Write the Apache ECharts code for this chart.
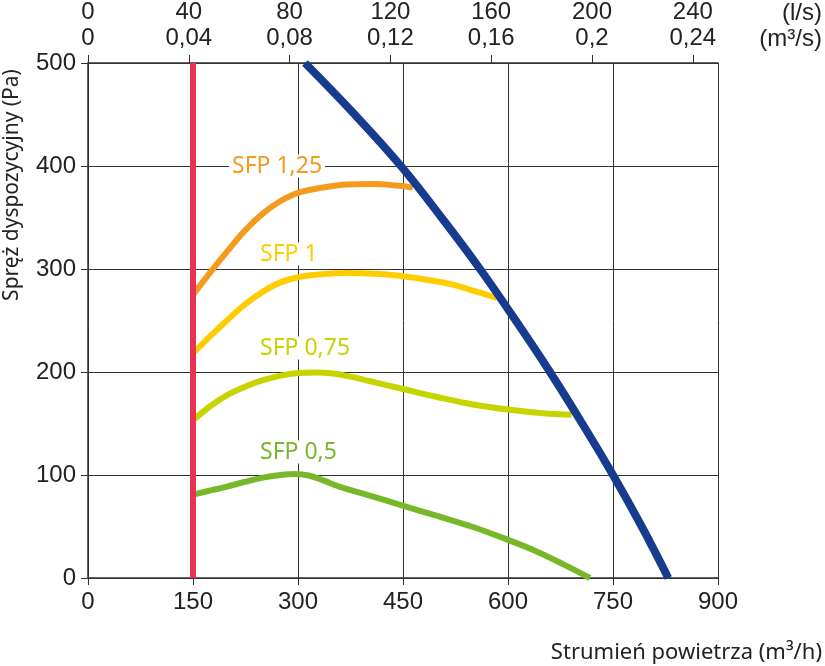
<!DOCTYPE html>
<html>
<head>
<meta charset="utf-8">
<script src="https://cdn.jsdelivr.net/npm/echarts@6/dist/echarts.min.js"></script>
<style>
  html, body { margin: 0; padding: 0; background: #fff; }
  #chart { width: 825px; height: 666px; }
</style>
</head>
<body>
<div id="chart"></div>
<script>
// dane: [m3/h, Pa]
const minFlow = [[150, 0], [150, 500]]
const fanMax = [[310, 500], [381, 450], [447, 400], [505, 350], [560, 300], [611, 250], [660, 200], [706, 150], [750, 100], [791, 50], [829, 0]]
const sfp125 = [[150, 275], [175, 297], [200, 318], [225, 338], [250, 354], [275, 366], [300, 374], [335, 379], [370, 382], [405, 382.5], [441, 381], [464, 379]]
const sfp100 = [[150, 218], [175, 235], [200, 251], [225, 266], [250, 278], [275, 287], [300, 292], [335, 295], [370, 296], [410, 295.5], [450, 293], [489, 289], [520, 285], [550, 279], [584, 272]]
const sfp075 = [[150, 153], [175, 167], [200, 178], [225, 186], [250, 192], [275, 196.5], [300, 199], [325, 199.5], [350, 198.5], [375, 195.5], [400, 191.5], [450, 183.5], [500, 175.5], [550, 168.5], [600, 163.5], [650, 160], [691, 158.5]]
const sfp050 = [[150, 81], [175, 85], [200, 89], [225, 93.5], [250, 97.5], [275, 100], [295, 101], [315, 99.5], [335, 95], [360, 88.5], [400, 80.5], [446, 71], [500, 60], [550, 49.5], [600, 37], [640, 26], [680, 13], [717, 0]]

// górna oś: l/s oraz m3/s
const lsTicks = [0, 40, 80, 120, 160, 200, 240]
const m3sLabels = ['0', '0,04', '0,08', '0,12', '0,16', '0,2', '0,24']

const tickFont = 'Liberation Sans Narrow, Arial Narrow, sans-serif'
const textFont = 'Noto Sans, Open Sans, sans-serif'
const axisColor = '#333'

function curve (name, data, color, width, z) {
  return {
    type: 'line',
    name: name,
    data: data,
    smooth: 0.4,
    showSymbol: false,
    z: z,
    lineStyle: { color: color, width: width, cap: 'butt' }
  }
}

function sfpLabel (text, x, y, color) {
  return {
    type: 'text',
    x: x,
    y: y,
    z: 100,
    style: {
      text: text,
      fill: color,
      font: '23px ' + textFont,
      verticalAlign: 'middle',
      backgroundColor: '#fff',
      padding: [0, 3]
    }
  }
}

const option = {
  animation: false,
  grid: { left: 88, right: 107, top: 63, bottom: 88 },
  xAxis: [
    {
      type: 'value',
      min: 0,
      max: 900,
      interval: 150,
      position: 'bottom',
      axisLine: { show: true, onZero: false, lineStyle: { color: axisColor, width: 1.5 } },
      axisTick: { show: true, length: 7, lineStyle: { color: axisColor } },
      axisLabel: { margin: 12, fontSize: 24, fontFamily: tickFont, color: '#222' },
      splitLine: { show: true, lineStyle: { color: axisColor, width: 1 } }
    },
    {
      type: 'value',
      min: 0,
      max: 250,
      interval: 40,
      position: 'top',
      axisLine: { show: true, onZero: false, lineStyle: { color: axisColor, width: 1.5 } },
      axisTick: {
        show: true,
        length: 8,
        lineStyle: { color: axisColor },
        customValues: lsTicks
      },
      axisLabel: {
        margin: 12,
        customValues: lsTicks,
        formatter: function (v) {
          const i = lsTicks.indexOf(v)
          if (i < 0) return ''
          return '{a|' + v + '}\n{a|' + m3sLabels[i] + '}'
        },
        rich: {
          a: { fontSize: 24, fontFamily: tickFont, color: '#222', lineHeight: 26 }
        }
      },
      splitLine: { show: false }
    }
  ],
  yAxis: [
    {
      type: 'value',
      min: 0,
      max: 500,
      interval: 100,
      axisLine: { show: true, onZero: false, lineStyle: { color: axisColor, width: 1.5 } },
      axisTick: { show: true, length: 7, lineStyle: { color: axisColor } },
      axisLabel: { margin: 12, fontSize: 24, fontFamily: tickFont, color: '#222' },
      splitLine: { show: true, lineStyle: { color: axisColor, width: 1 } }
    }
  ],
  series: [
    curve('SFP 0,5', sfp050, '#76b82a', 6, 2),
    curve('SFP 0,75', sfp075, '#c8d400', 6, 2),
    curve('SFP 1', sfp100, '#ffcc00', 6, 2),
    curve('SFP 1,25', sfp125, '#f39a1f', 6, 2),
    curve('max', fanMax, '#173c8f', 8, 3),
    {
      type: 'line',
      name: 'min',
      data: minFlow,
      showSymbol: false,
      z: 4,
      lineStyle: { color: '#e73352', width: 6, cap: 'butt' }
    }
  ],
  graphic: [
    sfpLabel('SFP 1,25', 229, 166, '#f39a1f'),
    sfpLabel('SFP 1', 257, 254, '#ffcc00'),
    sfpLabel('SFP 0,75', 257, 348, '#c8d400'),
    sfpLabel('SFP 0,5', 257, 452, '#76b82a'),
    {
      type: 'text',
      x: 12,
      y: 185,
      rotation: Math.PI / 2,
      style: {
        text: 'Spręż dyspozycyjny (Pa)',
        fill: '#222',
        font: '21px ' + textFont,
        align: 'center',
        verticalAlign: 'middle'
      }
    },
    {
      type: 'text',
      x: 822,
      y: 653,
      style: {
        text: 'Strumień powietrza (m³/h)',
        fill: '#222',
        font: '22px ' + textFont,
        align: 'right',
        verticalAlign: 'middle'
      }
    },
    {
      type: 'text',
      x: 822,
      y: 13,
      style: { text: '(l/s)', fill: '#222', font: '24px ' + tickFont, align: 'right', verticalAlign: 'middle' }
    },
    {
      type: 'text',
      x: 822,
      y: 39,
      style: { text: '(m³/s)', fill: '#222', font: '24px ' + tickFont, align: 'right', verticalAlign: 'middle' }
    }
  ]
}

const chart = echarts.init(document.getElementById('chart'))
chart.setOption(option)
</script>
</body>
</html>
